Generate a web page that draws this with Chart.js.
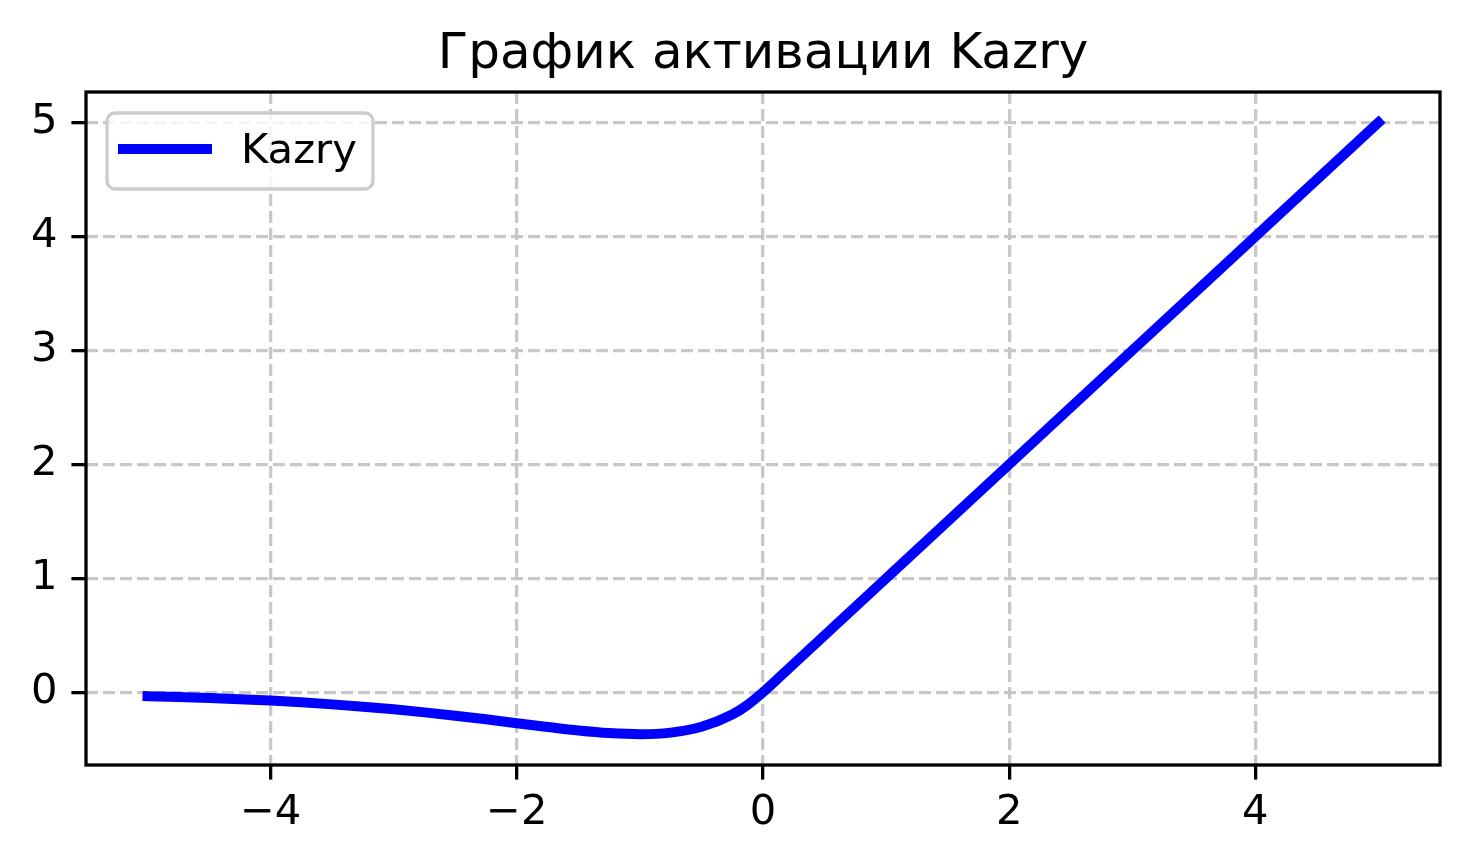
<!DOCTYPE html>
<html>
<head>
<meta charset="utf-8">
<script src="https://cdn.jsdelivr.net/npm/chart.js@4.4.1/dist/chart.umd.min.js"></script>
<style>
	html, body { margin: 0; padding: 0; background: #ffffff; }
	canvas { display: block; }
</style>
</head>
<body>
<canvas id="kazry-chart" width="1470" height="866"></canvas>
<script>
// Values
const xValues = [
	-5, -4.75, -4.5, -4.25, -4, -3.75, -3.5, -3.25, -3, -2.75, -2.5, -2.25,
	-2, -1.75, -1.5, -1.25, -1, -0.75, -0.5, -0.25, -0.125, 0,
	0.25, 0.5, 1, 2, 3, 4, 5
];
const yValues = [
	-0.034, -0.041, -0.050, -0.061, -0.073, -0.088, -0.106, -0.126, -0.149, -0.176, -0.205, -0.237,
	-0.271, -0.304, -0.335, -0.358, -0.368, -0.354, -0.303, -0.195, -0.110, 0,
	0.25, 0.5, 1, 2, 3, 4, 5
];
const xTicks = [-4, -2, 0, 2, 4];
const yTicks = [0, 1, 2, 3, 4, 5];
const seriesLabel = "Kazry";
const chartTitle = "График активации Kazry";

const FONT = "'DejaVu Sans', sans-serif";

// Format numbers like matplotlib (unicode minus)
function fmt(v) {
	return v < 0 ? "\u2212" + Math.abs(v) : String(v);
}

// Draw the full frame around the plot area
const framePlugin = {
	id: "frame",
	afterDatasetsDraw(chart) {
		const { ctx, chartArea: a } = chart;
		ctx.save();
		ctx.strokeStyle = "#000000";
		ctx.lineWidth = 3.3;
		ctx.strokeRect(a.left, a.top, a.right - a.left, a.bottom - a.top);
		ctx.restore();
	},
};

// Title above the plot area
const titlePlugin = {
	id: "plotTitle",
	afterDraw(chart) {
		const { ctx, chartArea: a } = chart;
		ctx.save();
		ctx.fillStyle = "#000000";
		ctx.font = "50px " + FONT;
		ctx.textAlign = "center";
		ctx.textBaseline = "alphabetic";
		ctx.fillText(chartTitle, (a.left + a.right) / 2, a.top - 24);
		ctx.restore();
	},
};

// Legend box in the upper left corner of the plot
const legendPlugin = {
	id: "innerLegend",
	afterDraw(chart) {
		const { ctx, chartArea: a } = chart;
		const ds = chart.data.datasets[0];
		const bx = a.left + 21, by = a.top + 21, bw = 266, bh = 76;
		ctx.save();
		ctx.beginPath();
		ctx.roundRect(bx, by, bw, bh, 8);
		ctx.fillStyle = "rgba(255,255,255,0.8)";
		ctx.fill();
		ctx.strokeStyle = "#cccccc";
		ctx.lineWidth = 3.3;
		ctx.stroke();

		ctx.beginPath();
		ctx.moveTo(a.left + 32, a.top + 57);
		ctx.lineTo(a.left + 126, a.top + 57);
		ctx.strokeStyle = ds.borderColor;
		ctx.lineWidth = ds.borderWidth;
		ctx.lineCap = "butt";
		ctx.stroke();

		ctx.fillStyle = "#000000";
		ctx.font = "41.7px " + FONT;
		ctx.textAlign = "left";
		ctx.textBaseline = "middle";
		ctx.fillText(ds.label, a.left + 155, a.top + 60);
		ctx.restore();
	},
};

const points = xValues.map((x, i) => ({ x: x, y: yValues[i] }));

const gridOpts = {
	color: "#c8c8c8",
	lineWidth: 3.3,
	tickColor: "#000000",
	tickLength: 14.6,
	tickWidth: 3.3,
};

const tickFont = { family: FONT, size: 41.7 };

new Chart(document.getElementById("kazry-chart").getContext("2d"), {
	type: "line",
	data: {
		datasets: [
			{
				label: seriesLabel,
				data: points,
				borderColor: "#0000ff",
				borderWidth: 10,
				pointRadius: 0,
				fill: false,
				cubicInterpolationMode: "monotone",
				borderCapStyle: "square",
				borderJoinStyle: "round",
			},
		],
	},
	options: {
		responsive: false,
		animation: false,
		devicePixelRatio: 1,
		layout: { padding: { left: 0, top: 92, right: 30, bottom: 0 } },
		plugins: {
			legend: { display: false },
			title: { display: false },
			tooltip: { enabled: false },
		},
		scales: {
			x: {
				type: "linear",
				min: -5.5,
				max: 5.5,
				afterBuildTicks: (s) => { s.ticks = xTicks.map((v) => ({ value: v })); },
				afterFit: (s) => { s.height = 101; },
				grid: gridOpts,
				border: { display: false, dash: [12, 5] },
				ticks: {
					color: "#000000",
					font: tickFont,
					padding: 9,
					maxRotation: 0,
					autoSkip: false,
					callback: (v) => fmt(v),
				},
			},
			y: {
				type: "linear",
				min: -0.638,
				max: 5.268,
				afterBuildTicks: (s) => { s.ticks = yTicks.map((v) => ({ value: v })); },
				afterFit: (s) => { s.width = 86; },
				grid: gridOpts,
				border: { display: false, dash: [12, 5] },
				ticks: {
					color: "#000000",
					font: tickFont,
					padding: 14,
					autoSkip: false,
					callback: (v) => fmt(v),
				},
			},
		},
	},
	plugins: [framePlugin, titlePlugin, legendPlugin],
});
</script>
</body>
</html>
